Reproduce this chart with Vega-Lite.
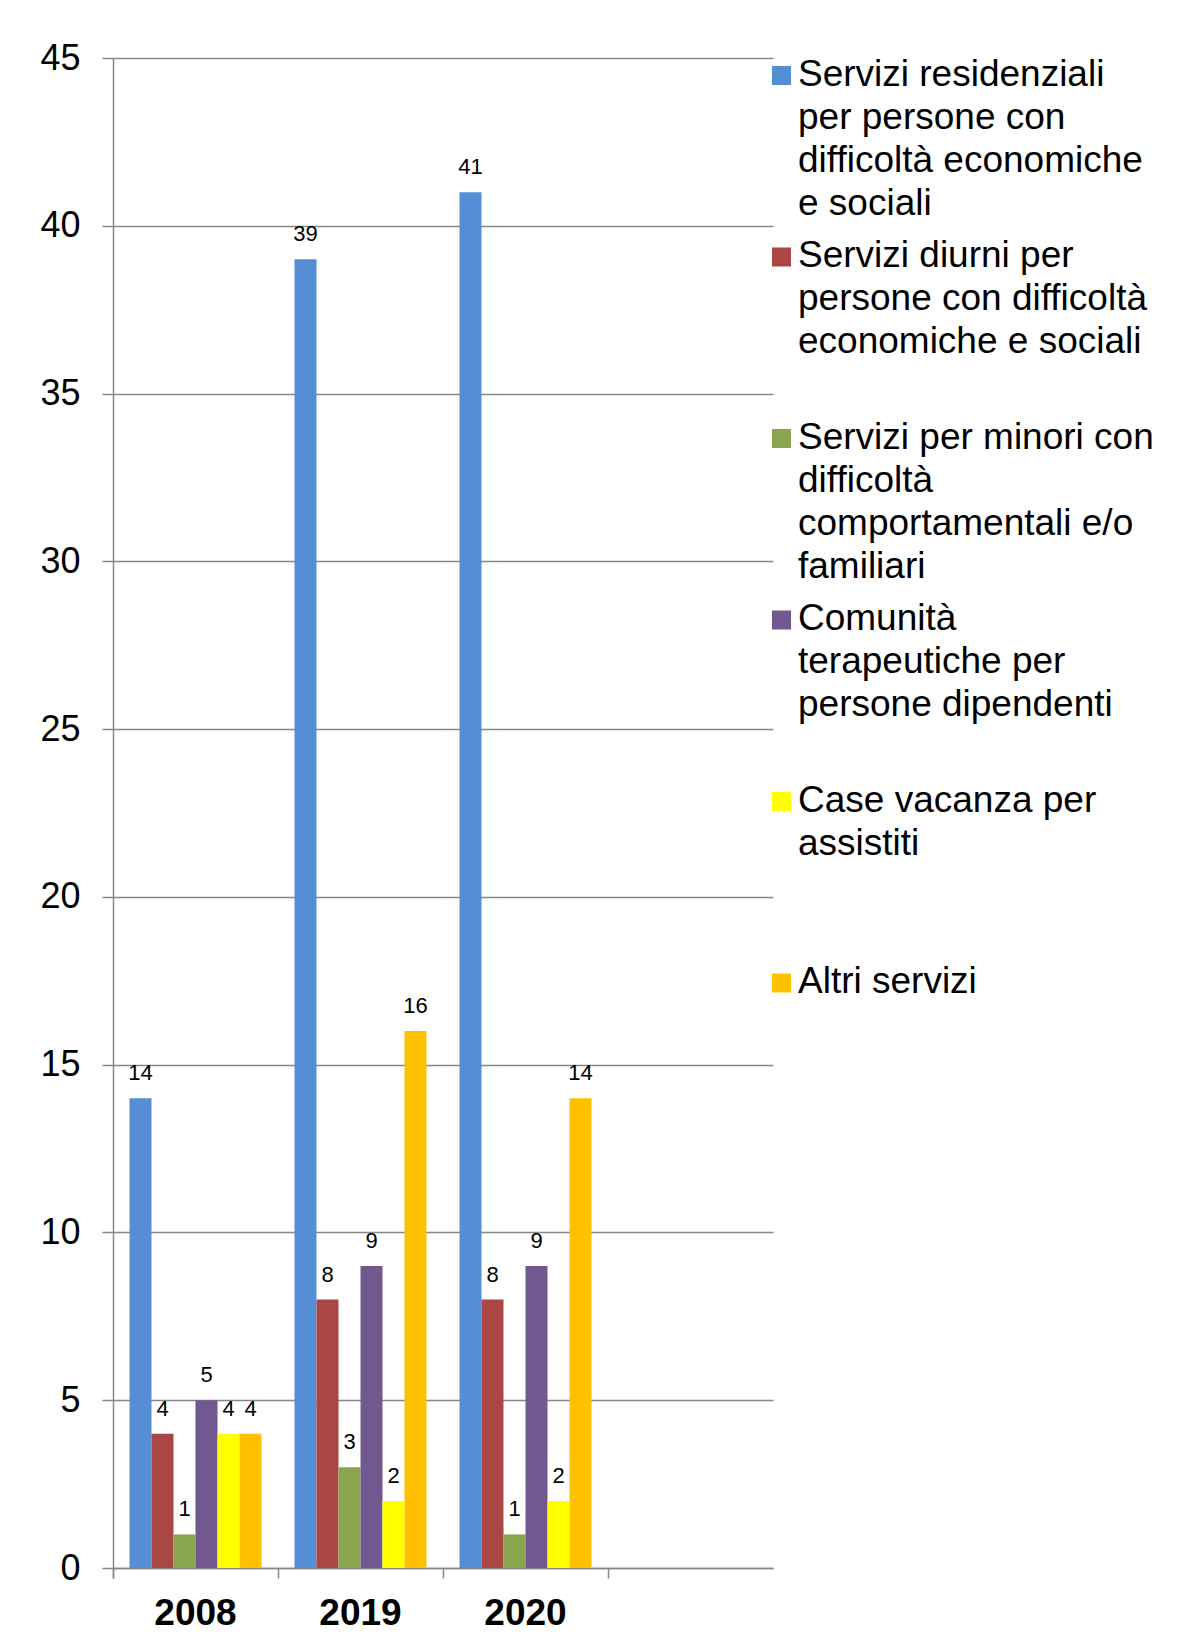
{
  "$schema": "https://vega.github.io/schema/vega-lite/v6.json",
  "width": 660,
  "height": 1510,
  "autosize": {"type": "none"},
  "padding": {"left": 113, "top": 58, "right": 429, "bottom": 64},
  "background": "white",
  "config": {"view": {"stroke": null}, "font": "Liberation Sans"},
  "data": {
    "values": [
      {"anno": "2008", "servizio": "Servizi residenziali per persone con difficoltà economiche e sociali", "valore": 14},
      {"anno": "2008", "servizio": "Servizi diurni per persone con difficoltà economiche e sociali", "valore": 4},
      {"anno": "2008", "servizio": "Servizi per minori con difficoltà comportamentali e/o familiari", "valore": 1},
      {"anno": "2008", "servizio": "Comunità terapeutiche per persone dipendenti", "valore": 5},
      {"anno": "2008", "servizio": "Case vacanza per assistiti", "valore": 4},
      {"anno": "2008", "servizio": "Altri servizi", "valore": 4},
      {"anno": "2019", "servizio": "Servizi residenziali per persone con difficoltà economiche e sociali", "valore": 39},
      {"anno": "2019", "servizio": "Servizi diurni per persone con difficoltà economiche e sociali", "valore": 8},
      {"anno": "2019", "servizio": "Servizi per minori con difficoltà comportamentali e/o familiari", "valore": 3},
      {"anno": "2019", "servizio": "Comunità terapeutiche per persone dipendenti", "valore": 9},
      {"anno": "2019", "servizio": "Case vacanza per assistiti", "valore": 2},
      {"anno": "2019", "servizio": "Altri servizi", "valore": 16},
      {"anno": "2020", "servizio": "Servizi residenziali per persone con difficoltà economiche e sociali", "valore": 41},
      {"anno": "2020", "servizio": "Servizi diurni per persone con difficoltà economiche e sociali", "valore": 8},
      {"anno": "2020", "servizio": "Servizi per minori con difficoltà comportamentali e/o familiari", "valore": 1},
      {"anno": "2020", "servizio": "Comunità terapeutiche per persone dipendenti", "valore": 9},
      {"anno": "2020", "servizio": "Case vacanza per assistiti", "valore": 2},
      {"anno": "2020", "servizio": "Altri servizi", "valore": 14}
    ]
  },
  "encoding": {
    "x": {
      "field": "anno",
      "type": "nominal",
      "scale": {"domain": ["2008", "2019", "2020", " "], "paddingInner": 0, "paddingOuter": 0},
      "axis": {
        "title": null,
        "labelAngle": 0,
        "bandPosition": 0,
        "tickExtra": true,
        "tickSize": 10,
        "tickColor": "#878787",
        "tickWidth": 1.5,
        "domainColor": "#878787",
        "domainWidth": 1.5,
        "labelFontSize": 37,
        "labelFontWeight": "bold",
        "labelColor": "black",
        "labelPadding": 17,
        "labelBaseline": "top",
        "grid": false
      }
    },
    "xOffset": {
      "field": "servizio",
      "type": "nominal",
      "scale": {
        "domain": [
          "Servizi residenziali per persone con difficoltà economiche e sociali",
          "Servizi diurni per persone con difficoltà economiche e sociali",
          "Servizi per minori con difficoltà comportamentali e/o familiari",
          "Comunità terapeutiche per persone dipendenti",
          "Case vacanza per assistiti",
          "Altri servizi"
        ],
        "paddingInner": 0,
        "paddingOuter": 0.75
      }
    },
    "y": {
      "field": "valore",
      "type": "quantitative",
      "scale": {"domain": [0, 45], "nice": false},
      "axis": {
        "title": null,
        "values": [0, 5, 10, 15, 20, 25, 30, 35, 40, 45],
        "grid": true,
        "gridColor": "#878787",
        "gridWidth": 1.5,
        "domainColor": "#878787",
        "domainWidth": 1.5,
        "tickColor": "#878787",
        "tickWidth": 1.5,
        "tickSize": 11,
        "labelFontSize": 36,
        "labelColor": "black",
        "labelPadding": 22
      }
    }
  },
  "layer": [
    {
      "mark": {"type": "bar"},
      "encoding": {
        "color": {
          "field": "servizio",
          "type": "nominal",
          "scale": {
            "domain": [
              "Servizi residenziali per persone con difficoltà economiche e sociali",
              "Servizi diurni per persone con difficoltà economiche e sociali",
              "Servizi per minori con difficoltà comportamentali e/o familiari",
              "Comunità terapeutiche per persone dipendenti",
              "Case vacanza per assistiti",
              "Altri servizi"
            ],
            "range": ["#558ED5", "#AA4643", "#89A54E", "#71588F", "#FFFF00", "#FFC000"]
          },
          "legend": {
            "title": null,
            "orient": "none",
            "legendX": 650,
            "legendY": -1,
            "padding": 0,
            "symbolType": "square",
            "symbolSize": 361,
            "symbolStrokeWidth": 0,
            "symbolOpacity": 1,
            "labelFontSize": 37,
            "labelColor": "black",
            "labelLimit": 600,
            "labelOffset": -2,
            "labelBaseline": "top",
            "gridAlign": "all",
            "rowPadding": 14.5,
            "labelExpr": "indexof(datum.label,'residenziali')>=0 ? ['Servizi residenziali','per persone con','difficoltà economiche','e sociali'] : indexof(datum.label,'diurni')>=0 ? ['Servizi diurni per','persone con difficoltà','economiche e sociali'] : indexof(datum.label,'minori')>=0 ? ['Servizi per minori con','difficoltà','comportamentali e/o','familiari'] : indexof(datum.label,'Comunità')>=0 ? ['Comunità','terapeutiche per','persone dipendenti'] : indexof(datum.label,'vacanza')>=0 ? ['Case vacanza per','assistiti'] : datum.label",
            "encode": {
              "labels": {"update": {"dy": {"value": -19}, "lineHeight": {"value": 43}}}
            }
          }
        }
      }
    },
    {
      "mark": {"type": "text", "baseline": "alphabetic", "dy": -18, "fontSize": 22, "color": "black"},
      "encoding": {"text": {"field": "valore", "type": "quantitative"}}
    }
  ]
}
